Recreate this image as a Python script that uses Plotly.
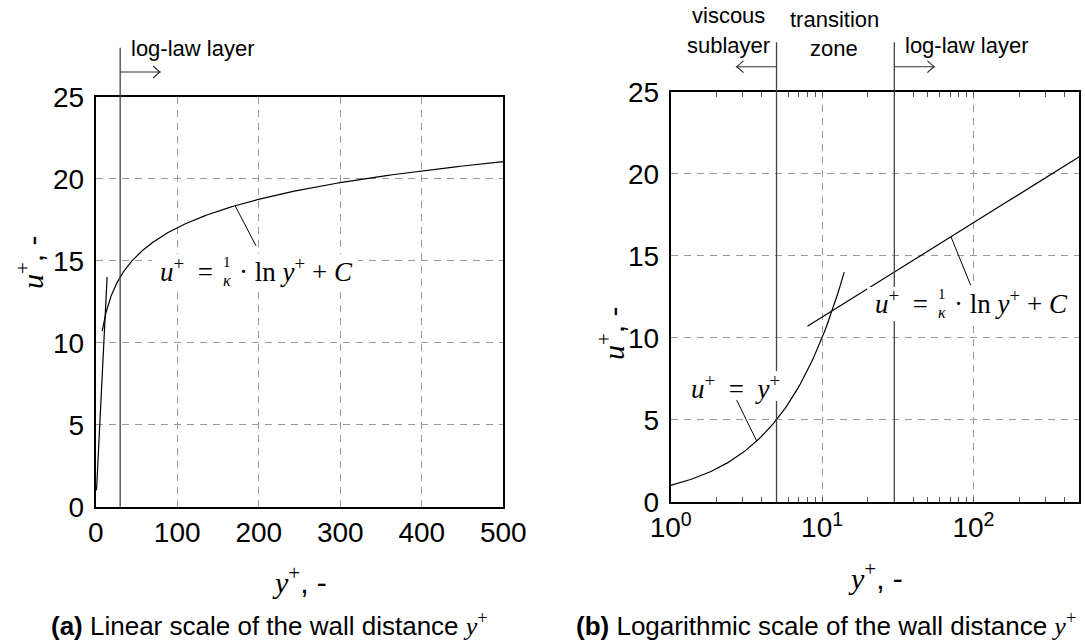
import numpy as np
import plotly.graph_objects as go

# ---- data -------------------------------------------------------------
KAPPA = 0.4          # von Karman constant
C_CONST = 5.5        # log-law intercept C

visc_span = [1, 14]          # y+ extent drawn for u+ = y+
loglaw_span = [8, 500]       # y+ extent drawn for the log law
region_bounds = [5, 30]      # viscous sublayer / log-law layer limits

lin_xticks = [0, 100, 200, 300, 400, 500]
u_ticks = [0, 5, 10, 15, 20, 25]
log_xticks = [1, 10, 100]
log_xticktext = ["10<sup>0</sup>", "10<sup>1</sup>", "10<sup>2</sup>"]
log_minor = [2, 3, 4, 5, 6, 7, 8, 9, 20, 30, 40, 50, 60, 70, 80, 90, 200, 300, 400]

# leader-line anchor points on the curves (y+ values)
lead_lin_log = 171
lead_log_log = 71
lead_log_visc = 3.7


def u_visc(yp):
    return np.asarray(yp, dtype=float)


def u_log(yp):
    return np.log(np.asarray(yp, dtype=float)) / KAPPA + C_CONST


visc_y = np.geomspace(visc_span[0], visc_span[1], 80)
log_y = np.geomspace(loglaw_span[0], loglaw_span[1], 300)

# ---- layout geometry ---------------------------------------------------
W, H = 1085, 641
SANS = "Liberation Sans"
SERIF = "Liberation Serif"
NB = "\u00a0"

L_X = [95.7 / W, 503.3 / W]
L_Y = [1 - 506.7 / H, 1 - 96.7 / H]
R_X = [670.7 / W, 1079.3 / W]
R_Y = [1 - 501.7 / H, 1 - 91.7 / H]
LOG_MAX = np.log10(500)


def px(x):
    return x / W


def py(y):
    return 1 - y / H


def log_paper_x(v):
    return R_X[0] + np.log10(v) / LOG_MAX * (R_X[1] - R_X[0])


def lin_paper_x(v):
    return L_X[0] + v / 500 * (L_X[1] - L_X[0])


fig = go.Figure()

line_style = dict(color="black", width=1.2)
fig.add_trace(go.Scatter(x=visc_y, y=u_visc(visc_y), mode="lines", line=line_style,
                         xaxis="x", yaxis="y", hoverinfo="skip", showlegend=False))
fig.add_trace(go.Scatter(x=log_y, y=u_log(log_y), mode="lines", line=line_style,
                         xaxis="x", yaxis="y", hoverinfo="skip", showlegend=False))
fig.add_trace(go.Scatter(x=visc_y, y=u_visc(visc_y), mode="lines", line=line_style,
                         xaxis="x2", yaxis="y2", hoverinfo="skip", showlegend=False))
fig.add_trace(go.Scatter(x=log_y, y=u_log(log_y), mode="lines", line=line_style,
                         xaxis="x2", yaxis="y2", hoverinfo="skip", showlegend=False))

tickfont = dict(family=SANS, size=28, color="black")
grid = dict(showgrid=True, gridcolor="#9a9a9a", griddash="7px,6px", gridwidth=1)
frame = dict(showline=True, linecolor="black", linewidth=2, zeroline=False, automargin=False)

fig.update_layout(
    width=W, height=H, margin=dict(l=0, r=0, t=0, b=0, pad=0, autoexpand=False),
    paper_bgcolor="white", plot_bgcolor="white",
    xaxis=dict(domain=L_X, range=[0, 500], tickvals=lin_xticks, ticks="", mirror=True,
               tickfont=tickfont, anchor="y", **grid, **frame),
    yaxis=dict(domain=L_Y, range=[0, 25], tickvals=u_ticks, ticks="", mirror=True,
               tickfont=tickfont, anchor="x", ticklabelstandoff=4, **grid, **frame),
    xaxis2=dict(domain=R_X, type="log", range=[0, LOG_MAX], tickvals=log_xticks,
                ticktext=log_xticktext, ticks="inside", ticklen=5, tickcolor="#555",
                mirror="allticks", tickfont=tickfont, anchor="y2",
                minor=dict(tickmode="array", tickvals=log_minor, ticks="inside",
                           ticklen=5, tickcolor="#555", showgrid=False),
                **grid, **frame),
    yaxis2=dict(domain=R_Y, range=[0, 25], tickvals=u_ticks, ticks="", mirror=True,
                tickfont=tickfont, anchor="x2", ticklabelstandoff=4, **grid, **frame),
)

shapes = []
# region boundaries reaching up above the frames
shapes.append(dict(type="line", xref="x", yref="paper", x0=region_bounds[1], x1=region_bounds[1],
                   y0=L_Y[0], y1=py(47.7), line=dict(color="#444", width=1.3), layer="above"))
for b in region_bounds:
    shapes.append(dict(type="line", xref="x2", yref="paper", x0=b, x1=b,
                       y0=R_Y[0], y1=py(42.3), line=dict(color="#444", width=1.3), layer="above"))


def arrow(x0, x1, y):
    d = 1 if x1 > x0 else -1
    hx, hy = 7 * d, 6
    path = (f"M {px(x0)},{py(y)} L {px(x1)},{py(y)} "
            f"M {px(x1 - hx)},{py(y - hy)} Q {px(x1 - hx * 0.35)},{py(y - 1.5)} {px(x1)},{py(y)} "
            f"Q {px(x1 - hx * 0.35)},{py(y + 1.5)} {px(x1 - hx)},{py(y + hy)}")
    return dict(type="path", xref="paper", yref="paper", path=path,
                line=dict(color="#333", width=1.1), layer="above")


x30_left = lin_paper_x(region_bounds[1]) * W
x5_right = log_paper_x(region_bounds[0]) * W
x30_right = log_paper_x(region_bounds[1]) * W
shapes.append(arrow(x30_left, x30_left + 40, 72))
shapes.append(arrow(x5_right, x5_right - 40, 66.7))
shapes.append(arrow(x30_right, x30_right + 40, 66.7))

# white boxes behind the equations
for (xa, xb, ya, yb) in [(152, 358, 254, 288), (867, 1073, 287, 321), (687, 783, 371, 401)]:
    shapes.append(dict(type="rect", xref="paper", yref="paper", x0=px(xa), x1=px(xb),
                       y0=py(yb), y1=py(ya), fillcolor="white", line=dict(width=0), layer="above"))

# leader lines from curves to equations
shapes.append(dict(type="line", xref="x", yref="y", x0=lead_lin_log, y0=float(u_log(lead_lin_log)),
                   x1=196.7, y1=15.9, line=dict(color="black", width=1), layer="above"))
shapes.append(dict(type="line", xref="x2", yref="y2", x0=lead_log_log, y0=float(u_log(lead_log_log)),
                   x1=95.8, y1=13.2, line=dict(color="black", width=1), layer="above"))
shapes.append(dict(type="line", xref="x2", yref="y2", x0=lead_log_visc, y0=float(u_visc(lead_log_visc)),
                   x1=2.73, y1=6.19, line=dict(color="black", width=1), layer="above"))
fig.update_layout(shapes=shapes)

ann = []


def text(x, y, s, size=22, family=SANS, xanchor="center", angle=0):
    ann.append(dict(x=px(x), y=py(y), xref="paper", yref="paper", text=s, showarrow=False,
                    xanchor=xanchor, yanchor="middle", textangle=angle,
                    font=dict(family=family, size=size, color="black")))


# region names
text(129, 48, "log-law layer", xanchor="left")
text(728, 15, "viscous")
text(728, 45, "sublayer")
text(834, 19, "transition")
text(834, 48, "zone")
text(903, 45, "log-law layer", xanchor="left")


def loglaw_eq(x_eq, x_frac, x_rest, yc):
    text(x_eq, yc, f"<i>u</i><sup>+</sup>{NB}{NB}=", family=SERIF, size=27, xanchor="right")
    text(x_frac, yc - 8, "1", family=SERIF, size=15)
    text(x_frac, yc + 10, "<i>κ</i>", family=SERIF, size=16)
    text(x_rest, yc, f"· ln <i>y</i><sup>+</sup> + <i>C</i>",
         family=SERIF, size=27, xanchor="left")


loglaw_eq(215, 226.7, 237, 270)
loglaw_eq(930, 941.7, 952, 302)
text(735, 386.7, f"<i>u</i><sup>+</sup>{NB}{NB}={NB}{NB}<i>y</i><sup>+</sup>", family=SERIF, size=27)

# axis titles
ytitle = f"<span style='font-family:{SERIF}'><i>u</i><sup>+</sup></span>, -"
xtitle = f"<span style='font-family:{SERIF}'><i>y</i><sup>+</sup></span>, -"
text(30, 262, ytitle, size=30, angle=-90)
text(611, 333, ytitle, size=30, angle=-90)
text(299.5, 580, xtitle, size=30)
text(875, 576, xtitle, size=30)

# captions
yplus = f"<span style='font-family:{SERIF}'><i>y</i><sup>+</sup></span>"
text(269, 624, f"<b>(a)</b> Linear scale of the wall distance {yplus}", size=26)
text(826, 624, f"<b>(b)</b> Logarithmic scale of the wall distance {yplus}", size=26)

fig.update_layout(annotations=ann)
fig.write_html("out.html")
